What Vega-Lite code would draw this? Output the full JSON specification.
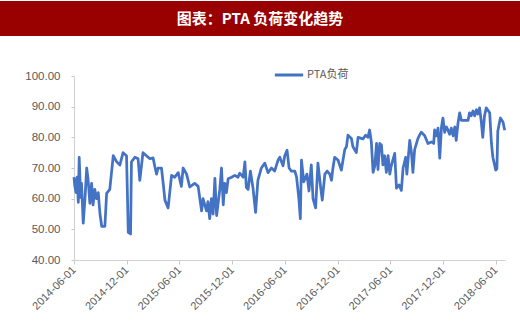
{
  "$schema": "https://vega.github.io/schema/vega-lite/v6.json",
  "padding": {"left": 0, "top": 1, "right": 0, "bottom": 0},
  "background": "white",
  "spacing": 34,
  "config": {"view": {"stroke": null}},
  "vconcat": [
    {
      "width": 520,
      "height": 35,
      "view": {"fill": "#990000", "stroke": null},
      "data": {"values": [{"label": "图表：PTA 负荷变化趋势"}]},
      "mark": {"type": "text", "color": "white", "font": "Noto Sans CJK SC", "fontSize": 15, "fontWeight": "bold"},
      "encoding": {"text": {"field": "label", "type": "nominal"}}
    },
    {
      "width": 520,
      "height": 184,
      "data": {"values": [
        {"date": "2014-06-01", "value": 67},
        {"date": "2014-06-04", "value": 64},
        {"date": "2014-06-08", "value": 62},
        {"date": "2014-06-12", "value": 67},
        {"date": "2014-06-16", "value": 58.8},
        {"date": "2014-06-19", "value": 73.5},
        {"date": "2014-06-24", "value": 60.4},
        {"date": "2014-06-27", "value": 65},
        {"date": "2014-07-03", "value": 52},
        {"date": "2014-07-09", "value": 60},
        {"date": "2014-07-15", "value": 70},
        {"date": "2014-07-20", "value": 66},
        {"date": "2014-07-26", "value": 58.5},
        {"date": "2014-08-01", "value": 65},
        {"date": "2014-08-06", "value": 58},
        {"date": "2014-08-12", "value": 63},
        {"date": "2014-08-18", "value": 60},
        {"date": "2014-08-24", "value": 62},
        {"date": "2014-08-30", "value": 55},
        {"date": "2014-09-05", "value": 51},
        {"date": "2014-09-16", "value": 51},
        {"date": "2014-09-22", "value": 61.7},
        {"date": "2014-10-03", "value": 63},
        {"date": "2014-10-15", "value": 74},
        {"date": "2014-10-27", "value": 72},
        {"date": "2014-11-07", "value": 71},
        {"date": "2014-11-18", "value": 75},
        {"date": "2014-11-30", "value": 74},
        {"date": "2014-12-06", "value": 49},
        {"date": "2014-12-14", "value": 48.5},
        {"date": "2014-12-17", "value": 72},
        {"date": "2014-12-29", "value": 73.5},
        {"date": "2015-01-09", "value": 73},
        {"date": "2015-01-15", "value": 66},
        {"date": "2015-01-26", "value": 75},
        {"date": "2015-02-07", "value": 74},
        {"date": "2015-02-19", "value": 73},
        {"date": "2015-03-02", "value": 73.3},
        {"date": "2015-03-08", "value": 70.5},
        {"date": "2015-03-14", "value": 68},
        {"date": "2015-03-19", "value": 70},
        {"date": "2015-03-31", "value": 70},
        {"date": "2015-04-06", "value": 65},
        {"date": "2015-04-12", "value": 59.5},
        {"date": "2015-04-23", "value": 57},
        {"date": "2015-05-05", "value": 67.6},
        {"date": "2015-05-16", "value": 67},
        {"date": "2015-05-28", "value": 68.5},
        {"date": "2015-06-08", "value": 64},
        {"date": "2015-06-14", "value": 70},
        {"date": "2015-06-26", "value": 68},
        {"date": "2015-07-07", "value": 63.8},
        {"date": "2015-07-24", "value": 65},
        {"date": "2015-08-05", "value": 64},
        {"date": "2015-08-17", "value": 56},
        {"date": "2015-08-22", "value": 60},
        {"date": "2015-09-03", "value": 56},
        {"date": "2015-09-08", "value": 59},
        {"date": "2015-09-14", "value": 53.5},
        {"date": "2015-09-20", "value": 60},
        {"date": "2015-09-26", "value": 55},
        {"date": "2015-10-02", "value": 66.6},
        {"date": "2015-10-08", "value": 54.5},
        {"date": "2015-10-19", "value": 63},
        {"date": "2015-10-25", "value": 70},
        {"date": "2015-10-31", "value": 58},
        {"date": "2015-11-05", "value": 65},
        {"date": "2015-11-11", "value": 62},
        {"date": "2015-11-17", "value": 66.5},
        {"date": "2015-11-29", "value": 67},
        {"date": "2015-12-10", "value": 67.6},
        {"date": "2015-12-21", "value": 67},
        {"date": "2015-12-27", "value": 68.3},
        {"date": "2016-01-08", "value": 67},
        {"date": "2016-01-14", "value": 72},
        {"date": "2016-01-19", "value": 63.7},
        {"date": "2016-01-25", "value": 63},
        {"date": "2016-02-02", "value": 69},
        {"date": "2016-02-11", "value": 63.5},
        {"date": "2016-02-20", "value": 55.5},
        {"date": "2016-02-28", "value": 66},
        {"date": "2016-03-11", "value": 70},
        {"date": "2016-03-23", "value": 71.6},
        {"date": "2016-04-03", "value": 68.5},
        {"date": "2016-04-15", "value": 70},
        {"date": "2016-04-26", "value": 69},
        {"date": "2016-05-08", "value": 72.6},
        {"date": "2016-05-14", "value": 73.5},
        {"date": "2016-05-25", "value": 70.7},
        {"date": "2016-05-31", "value": 74},
        {"date": "2016-06-08", "value": 75.8},
        {"date": "2016-06-15", "value": 70},
        {"date": "2016-06-23", "value": 69},
        {"date": "2016-07-05", "value": 69},
        {"date": "2016-07-11", "value": 67},
        {"date": "2016-07-19", "value": 60},
        {"date": "2016-07-24", "value": 53.5},
        {"date": "2016-07-28", "value": 72.6},
        {"date": "2016-08-05", "value": 65.5},
        {"date": "2016-08-16", "value": 68},
        {"date": "2016-08-23", "value": 62.5},
        {"date": "2016-08-31", "value": 71},
        {"date": "2016-09-06", "value": 60},
        {"date": "2016-09-15", "value": 57},
        {"date": "2016-09-23", "value": 71.6},
        {"date": "2016-10-02", "value": 64},
        {"date": "2016-10-08", "value": 59.5},
        {"date": "2016-10-17", "value": 68},
        {"date": "2016-10-25", "value": 69},
        {"date": "2016-11-03", "value": 68},
        {"date": "2016-11-09", "value": 66},
        {"date": "2016-11-14", "value": 70},
        {"date": "2016-11-20", "value": 73.5},
        {"date": "2016-12-02", "value": 72.5},
        {"date": "2016-12-13", "value": 69.3},
        {"date": "2016-12-25", "value": 76},
        {"date": "2016-12-31", "value": 77},
        {"date": "2017-01-05", "value": 80.7},
        {"date": "2017-01-17", "value": 79.6},
        {"date": "2017-01-22", "value": 77},
        {"date": "2017-02-03", "value": 75},
        {"date": "2017-02-09", "value": 80},
        {"date": "2017-02-26", "value": 79.5},
        {"date": "2017-03-07", "value": 80.7},
        {"date": "2017-03-15", "value": 80},
        {"date": "2017-03-21", "value": 82.4},
        {"date": "2017-03-27", "value": 78.5},
        {"date": "2017-04-02", "value": 68.6},
        {"date": "2017-04-08", "value": 70.7},
        {"date": "2017-04-14", "value": 78},
        {"date": "2017-04-19", "value": 69.5},
        {"date": "2017-04-25", "value": 78},
        {"date": "2017-05-01", "value": 77.5},
        {"date": "2017-05-06", "value": 71},
        {"date": "2017-05-12", "value": 74},
        {"date": "2017-05-18", "value": 68.6},
        {"date": "2017-05-24", "value": 74},
        {"date": "2017-05-30", "value": 68},
        {"date": "2017-06-04", "value": 70.7},
        {"date": "2017-06-16", "value": 74.8},
        {"date": "2017-06-22", "value": 63.4},
        {"date": "2017-07-01", "value": 64.5},
        {"date": "2017-07-09", "value": 62.7},
        {"date": "2017-07-15", "value": 70},
        {"date": "2017-07-24", "value": 73.5},
        {"date": "2017-07-28", "value": 68},
        {"date": "2017-08-07", "value": 79},
        {"date": "2017-08-13", "value": 75},
        {"date": "2017-08-18", "value": 68.6},
        {"date": "2017-08-24", "value": 76},
        {"date": "2017-09-04", "value": 79.5},
        {"date": "2017-09-10", "value": 80.7},
        {"date": "2017-09-16", "value": 81.7},
        {"date": "2017-09-28", "value": 80.5},
        {"date": "2017-10-09", "value": 78},
        {"date": "2017-10-21", "value": 78.5},
        {"date": "2017-10-29", "value": 78},
        {"date": "2017-11-01", "value": 82.4},
        {"date": "2017-11-07", "value": 80.5},
        {"date": "2017-11-13", "value": 83},
        {"date": "2017-11-19", "value": 73.2},
        {"date": "2017-11-25", "value": 83.4},
        {"date": "2017-11-30", "value": 86.3},
        {"date": "2017-12-06", "value": 81.6},
        {"date": "2017-12-12", "value": 83.4},
        {"date": "2017-12-17", "value": 82.5},
        {"date": "2017-12-23", "value": 81},
        {"date": "2017-12-29", "value": 83},
        {"date": "2018-01-04", "value": 80.5},
        {"date": "2018-01-10", "value": 83.4},
        {"date": "2018-01-15", "value": 79},
        {"date": "2018-01-21", "value": 84.5},
        {"date": "2018-01-27", "value": 88},
        {"date": "2018-02-02", "value": 85.5},
        {"date": "2018-02-13", "value": 85.5},
        {"date": "2018-02-25", "value": 85.5},
        {"date": "2018-03-02", "value": 88},
        {"date": "2018-03-08", "value": 87},
        {"date": "2018-03-14", "value": 88.6},
        {"date": "2018-03-20", "value": 87},
        {"date": "2018-03-26", "value": 89},
        {"date": "2018-03-31", "value": 87.6},
        {"date": "2018-04-06", "value": 89.6},
        {"date": "2018-04-12", "value": 85},
        {"date": "2018-04-17", "value": 80},
        {"date": "2018-04-23", "value": 87},
        {"date": "2018-04-29", "value": 89.6},
        {"date": "2018-05-11", "value": 88},
        {"date": "2018-05-17", "value": 78},
        {"date": "2018-05-22", "value": 73.5},
        {"date": "2018-06-01", "value": 69.3},
        {"date": "2018-06-05", "value": 69.8},
        {"date": "2018-06-08", "value": 82},
        {"date": "2018-06-17", "value": 86.3},
        {"date": "2018-06-26", "value": 85},
        {"date": "2018-07-02", "value": 82.3}
      ]},
      "mark": {"type": "line", "strokeWidth": 2.75, "strokeJoin": "round"},
      "encoding": {
        "x": {
          "field": "date",
          "type": "temporal",
          "scale": {"type": "utc", "range": [74, 505], "domain": [{"year": 2014, "month": 6, "date": 1, "utc": true}, {"year": 2018, "month": 7, "date": 3, "utc": true}]},
          "axis": {
            "title": null,
            "grid": false,
            "values": [
              {"year": 2014, "month": 6, "date": 1, "utc": true},
              {"year": 2014, "month": 12, "date": 1, "utc": true},
              {"year": 2015, "month": 6, "date": 1, "utc": true},
              {"year": 2015, "month": 12, "date": 1, "utc": true},
              {"year": 2016, "month": 6, "date": 1, "utc": true},
              {"year": 2016, "month": 12, "date": 1, "utc": true},
              {"year": 2017, "month": 6, "date": 1, "utc": true},
              {"year": 2017, "month": 12, "date": 1, "utc": true},
              {"year": 2018, "month": 6, "date": 1, "utc": true}
            ],
            "labelExpr": "utcFormat(datum.value, '%Y-%m-%d')",
            "labelAngle": -45,
            "labelAlign": "right",
            "labelBaseline": "middle",
            "labelFont": "Liberation Sans",
            "labelFontSize": 11,
            "labelColor": "#595959",
            "labelPadding": 4,
            "labelOverlap": false,
            "labelFlush": false,
            "domainColor": "#D0D0D0",
            "tickColor": "#C8C8C8",
            "tickSize": 4
          }
        },
        "y": {
          "field": "value",
          "type": "quantitative",
          "scale": {"domain": [40, 100], "nice": false, "zero": false},
          "axis": {
            "title": null,
            "offset": -74,
            "grid": false,
            "values": [40, 50, 60, 70, 80, 90, 100],
            "format": ".2f",
            "labelFont": "Liberation Sans",
            "labelFontSize": 11.5,
            "labelColor": "#595959",
            "labelPadding": 11,
            "domainColor": "#D0D0D0",
            "tickColor": "#C8C8C8",
            "tickSize": 3
          }
        },
        "color": {
          "datum": "PTA负荷",
          "type": "nominal",
          "scale": {"range": ["#4472C4"]},
          "legend": {
            "title": null,
            "orient": "none",
            "legendX": 273,
            "legendY": 58,
            "symbolType": "stroke",
            "symbolStrokeWidth": 3,
            "symbolSize": 800,
            "labelFont": "Noto Sans CJK SC",
            "labelFontSize": 11,
            "labelColor": "#595959",
            "labelOffset": 2,
            "padding": 0
          }
        }
      }
    }
  ]
}
